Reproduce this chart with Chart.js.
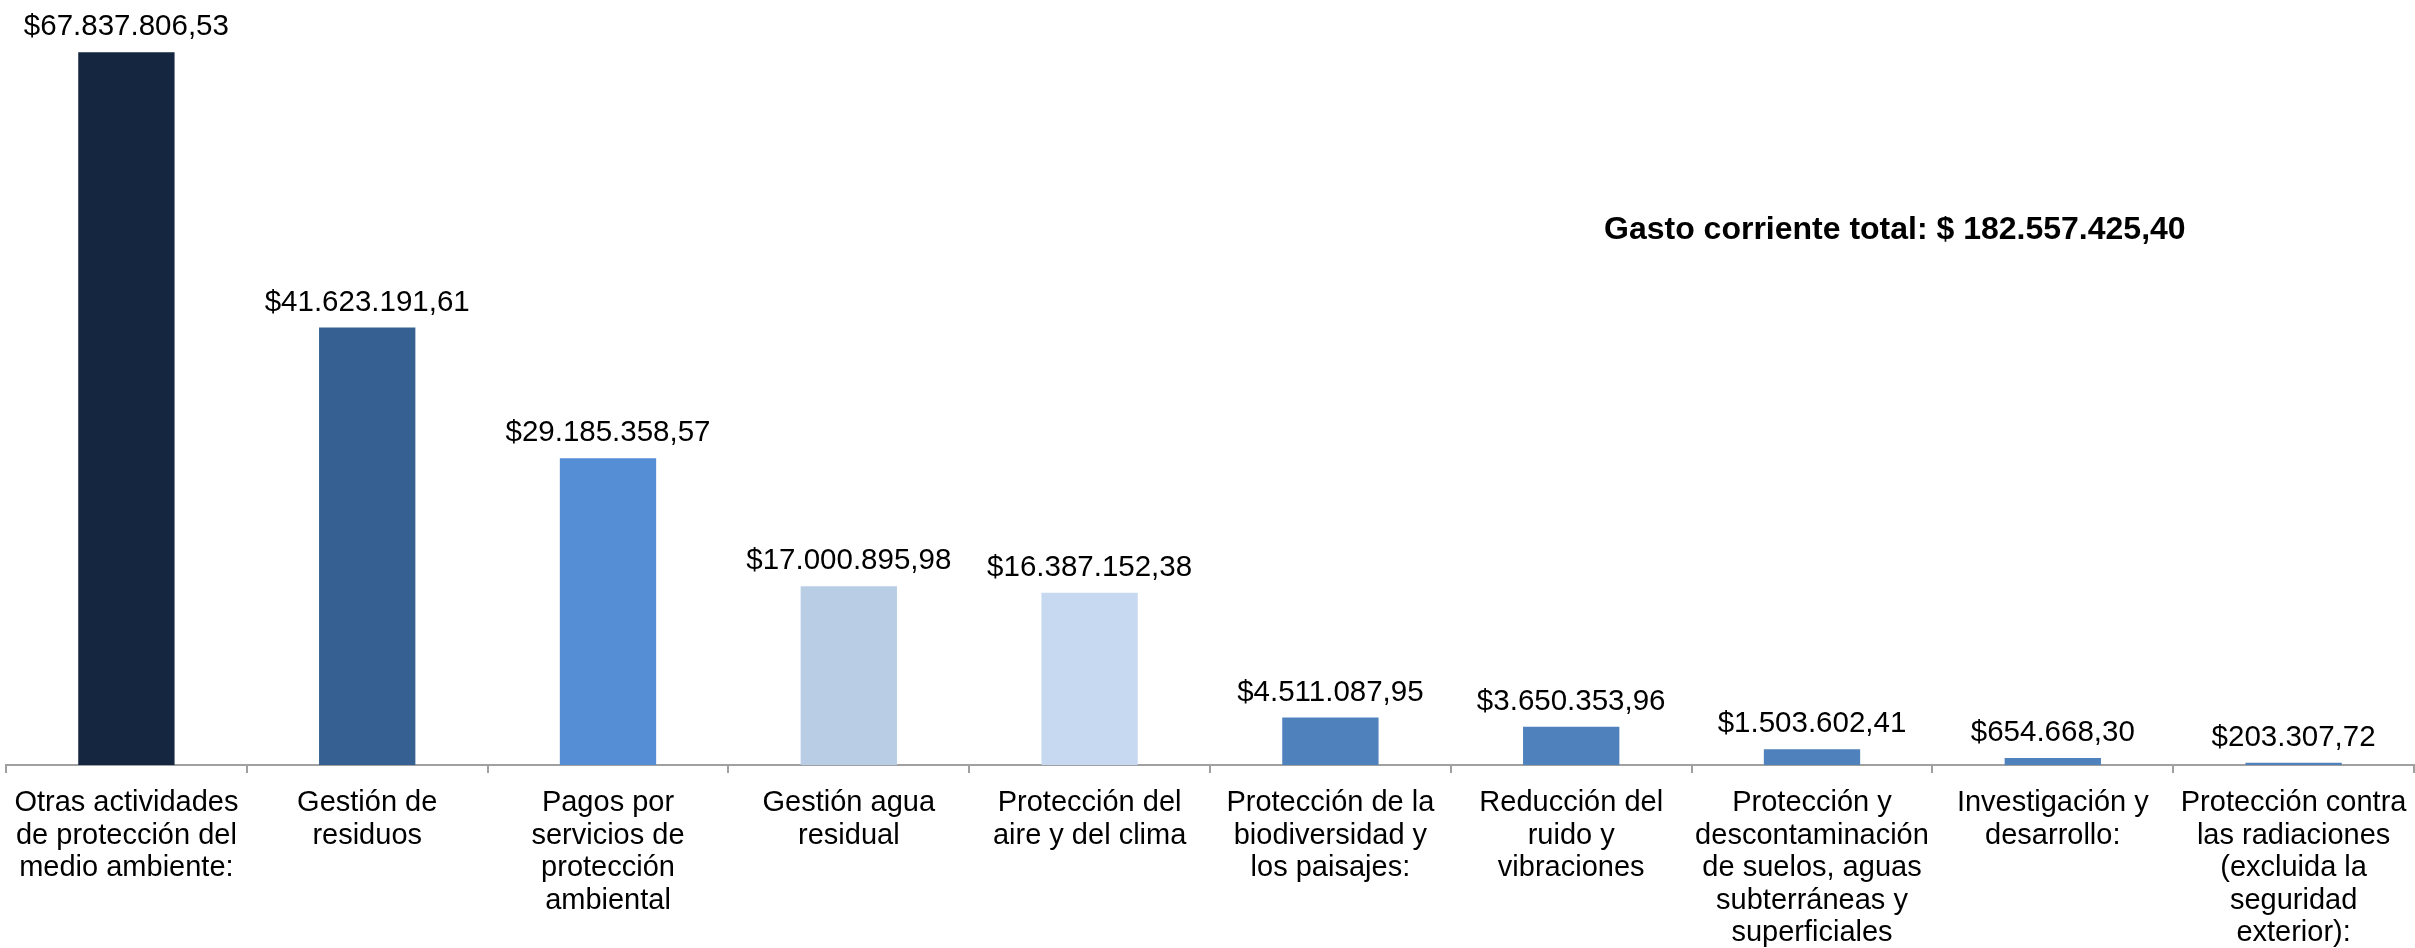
<!DOCTYPE html>
<html>
<head>
<meta charset="utf-8">
<script src="https://cdn.jsdelivr.net/npm/chart.js@4"></script>
<style>
  html, body { margin: 0; padding: 0; background: #fff; }
  #wrap { width: 2415px; height: 948px; }
</style>
</head>
<body>
<div id="wrap"><canvas id="gastoChart"></canvas></div>
<script>
// categorias (etiquetas en varias lineas)
const categorias = [
  ["Otras actividades", "de protección del", "medio ambiente:"],
  ["Gestión de", "residuos"],
  ["Pagos por", "servicios de", "protección", "ambiental"],
  ["Gestión agua", "residual"],
  ["Protección del", "aire y del clima"],
  ["Protección de la", "biodiversidad y", "los paisajes:"],
  ["Reducción del", "ruido y", "vibraciones"],
  ["Protección y", "descontaminación", "de suelos, aguas", "subterráneas y", "superficiales"],
  ["Investigación y", "desarrollo:"],
  ["Protección contra", "las radiaciones", "(excluida la", "seguridad", "exterior):"]
];

const gasto = [
  67837806.53, 41623191.61, 29185358.57, 17000895.98, 16387152.38,
  4511087.95, 3650353.96, 1503602.41, 654668.30, 203307.72
];

const coloresBarras = [
  "#142640", "#376092", "#558ED5", "#B9CDE5", "#C6D9F1",
  "#4F81BD", "#4F81BD", "#4F81BD", "#4F81BD", "#4F81BD"
];

const textoTotal = "Gasto corriente total: $ 182.557.425,40";

function formatoPesos(v) {
  const partes = v.toFixed(2).split(".");
  const entero = partes[0].replace(/\B(?=(\d{3})+(?!\d))/g, ".");
  return "$" + entero + "," + partes[1];
}

// etiquetas de valor encima de cada barra + texto del total
const etiquetasPlugin = {
  id: "etiquetas",
  afterDatasetsDraw(chart) {
    const ctx = chart.ctx;
    const meta = chart.getDatasetMeta(0);
    ctx.save();
    ctx.fillStyle = "#000";
    ctx.font = "29.5px 'Liberation Sans', Arial, sans-serif";
    ctx.textAlign = "center";
    ctx.textBaseline = "alphabetic";
    meta.data.forEach((bar, i) => {
      ctx.fillText(formatoPesos(gasto[i]), bar.x, bar.y - 17);
    });
    ctx.font = "bold 32px 'Liberation Sans', Arial, sans-serif";
    ctx.textAlign = "left";
    ctx.fillText(textoTotal, 1604, 239);
    ctx.restore();
  }
};

const ctx = document.getElementById("gastoChart").getContext("2d");
new Chart(ctx, {
  type: "bar",
  data: {
    labels: categorias,
    datasets: [{
      data: gasto,
      backgroundColor: coloresBarras,
      barPercentage: 0.4,
      categoryPercentage: 1.0
    }]
  },
  options: {
    responsive: true,
    maintainAspectRatio: false,
    animation: false,
    layout: { padding: { left: 6, right: 1, top: 0, bottom: 0 } },
    plugins: {
      legend: { display: false },
      tooltip: { enabled: false }
    },
    scales: {
      x: {
        afterFit: function (scale) {
          scale.height = 183;
          scale.paddingLeft = 0;
          scale.paddingRight = 0;
        },
        grid: {
          drawOnChartArea: false,
          tickLength: 8,
          color: "#A0A0A0",
          lineWidth: 2
        },
        border: { color: "#A0A0A0", width: 2 },
        ticks: {
          color: "#000",
          maxRotation: 0,
          autoSkip: false,
          padding: 14,
          font: { family: "'Liberation Sans', Arial, sans-serif", size: 29, lineHeight: 1.12 }
        }
      },
      y: {
        display: false,
        min: 0,
        max: 72800000
      }
    }
  },
  plugins: [etiquetasPlugin]
});
</script>
</body>
</html>
